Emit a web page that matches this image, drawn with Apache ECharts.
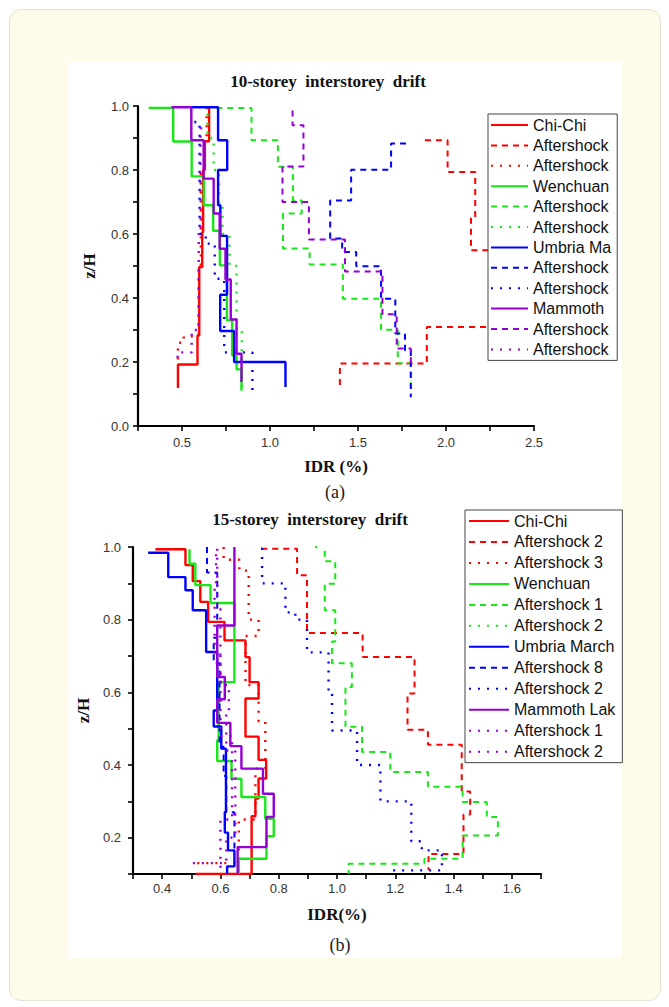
<!DOCTYPE html>
<html><head><meta charset="utf-8">
<script src="https://cdn.jsdelivr.net/npm/echarts@6/dist/echarts.min.js"></script>
<style>
html,body{margin:0;padding:0;background:#fff;}
#card{position:absolute;left:9px;top:9px;width:652px;height:992px;background:#fefbea;border:1px solid #e4e2d6;border-radius:12px;box-sizing:border-box;}
#panel{position:absolute;left:68px;top:62px;width:554px;height:896px;background:#fff;}
#chart{position:absolute;left:0;top:0;width:669px;height:1007px;}
</style></head><body>
<div id="card"></div><div id="panel"></div><div id="chart"></div>
<script>
// ---------- Data: 10-storey (IDR %, z/H breakpoints) ----------
const p1ChiChiIDR = [0.654, 0.654, 0.63, 0.62, 0.615, 0.598, 0.588, 0.477];
const p1ChiChiZ   = [0.996, 0.89, 0.80, 0.606, 0.497, 0.283, 0.192, 0.119];
const p1ChiChiAS1IDR = [1.88, 2.009, 2.166, 2.142, 2.28, 1.891, 1.397];
const p1ChiChiAS1Z   = [0.893, 0.794, 0.653, 0.549, 0.309, 0.195, 0.114];
const p1ChiChiAS2IDR = [0.64, 0.64, 0.625, 0.607, 0.595, 0.51, 0.477];
const p1ChiChiAS2Z   = [0.996, 0.89, 0.80, 0.5, 0.28, 0.26, 0.2];
const p1WenIDR = [0.31, 0.45, 0.555, 0.624, 0.677, 0.715, 0.755, 0.785, 0.81, 0.838];
const p1WenZ   = [0.994, 0.889, 0.78, 0.69, 0.61, 0.502, 0.33, 0.22, 0.177, 0.11];
const p1WenAS1IDR = [0.695, 0.895, 1.045, 1.13, 1.18, 1.074, 1.225, 1.414, 1.631, 1.726, 1.80];
const p1WenAS1Z   = [0.994, 0.893, 0.81, 0.705, 0.664, 0.555, 0.505, 0.398, 0.301, 0.196, 0.10];
const p1WenAS2IDR = [0.63, 0.645, 0.68, 0.71, 0.73, 0.77, 0.81, 0.84];
const p1WenAS2Z   = [0.996, 0.9, 0.8, 0.69, 0.6, 0.5, 0.3, 0.1];
const p1UmbIDR = [0.55, 0.705, 0.757, 0.705, 0.718, 0.756, 0.717, 0.796, 1.088];
const p1UmbZ   = [0.996, 0.893, 0.80, 0.69, 0.594, 0.41, 0.297, 0.2, 0.122];
const p1UmbAS1IDR = [1.773, 1.688, 1.461, 1.342, 1.41, 1.49, 1.631, 1.712, 1.767, 1.80];
const p1UmbAS1Z   = [0.883, 0.801, 0.705, 0.586, 0.544, 0.499, 0.398, 0.289, 0.237, 0.09];
const p1UmbAS2IDR = [0.57, 0.60, 0.635, 0.686, 0.74, 0.90];
const p1UmbAS2Z   = [0.95, 0.6, 0.57, 0.46, 0.23, 0.095];
const p1MamIDR = [0.44, 0.553, 0.623, 0.68, 0.714, 0.747, 0.777, 0.81, 0.838];
const p1MamZ   = [0.996, 0.893, 0.773, 0.664, 0.554, 0.458, 0.333, 0.226, 0.1375];
const p1MamAS1IDR = [1.128, 1.128, 1.19, 1.071, 1.221, 1.426, 1.639, 1.72, 1.80];
const p1MamAS1Z   = [0.986, 0.94, 0.811, 0.70, 0.583, 0.483, 0.349, 0.242, 0.19];
const p1MamAS2IDR = [0.615, 0.605, 0.595, 0.555, 0.475];
const p1MamAS2Z   = [0.93, 0.62, 0.3, 0.23, 0.2];

// ---------- Data: 15-storey ----------
const p2ChiChiIDR = [0.377, 0.48, 0.505, 0.531, 0.558, 0.614, 0.686, 0.70, 0.731, 0.686, 0.731, 0.757, 0.731, 0.72, 0.707, 0.514];
const p2ChiChiZ   = [0.994, 0.95, 0.906, 0.849, 0.794, 0.743, 0.697, 0.628, 0.583, 0.478, 0.414, 0.363, 0.308, 0.259, 0.1, 0.1];
const p2ChiChiAS2IDR = [0.74, 0.863, 0.897, 1.088, 1.266, 1.242, 1.312, 1.428, 1.457, 1.434, 1.314];
const p2ChiChiAS2Z   = [0.995, 0.922, 0.763, 0.697, 0.597, 0.497, 0.456, 0.327, 0.264, 0.155, 0.11];
const p2ChiChiAS3IDR = [0.611, 0.611, 0.665, 0.697, 0.731, 0.686, 0.731, 0.754, 0.72, 0.663, 0.50];
const p2ChiChiAS3Z   = [1.0, 0.965, 0.935, 0.80, 0.755, 0.62, 0.52, 0.39, 0.25, 0.13, 0.13];
const p2WenIDR = [0.494, 0.494, 0.514, 0.566, 0.648, 0.594, 0.589, 0.638, 0.672, 0.754, 0.783, 0.758, 0.663];
const p2WenZ   = [0.994, 0.954, 0.895, 0.846, 0.628, 0.468, 0.411, 0.362, 0.312, 0.252, 0.204, 0.142, 0.1];
const p2WenAS1IDR = [0.958, 0.958, 0.994, 0.958, 0.994, 0.983, 1.051, 1.029, 1.086, 1.183, 1.312, 1.431, 1.514, 1.552, 1.431, 1.30, 1.04];
const p2WenAS1Z   = [0.99, 0.961, 0.899, 0.826, 0.74, 0.68, 0.615, 0.505, 0.436, 0.381, 0.34, 0.298, 0.257, 0.206, 0.142, 0.128, 0.1];
const p2WenAS2IDR = [0.925, 0.94];
const p2WenAS2Z   = [1.0, 0.99];
const p2UmbIDR = [0.352, 0.421, 0.48, 0.505, 0.551, 0.589, 0.577, 0.603, 0.619, 0.615, 0.626, 0.648, 0.623];
const p2UmbZ   = [0.984, 0.917, 0.881, 0.826, 0.711, 0.55, 0.506, 0.445, 0.271, 0.214, 0.165, 0.121, 0.1];
const p2UmbAS8IDR = [0.554, 0.554, 0.589, 0.577, 0.597, 0.611, 0.62, 0.648];
const p2UmbAS8Z   = [1.0, 0.93, 0.75, 0.68, 0.45, 0.37, 0.27, 0.17];
const p2UmbAS2IDR = [0.74, 0.743, 0.823, 0.857, 0.897, 0.971, 0.983, 1.069, 1.149, 1.255, 1.291, 1.36, 1.18];
const p2UmbAS2Z   = [0.995, 0.9, 0.82, 0.8, 0.71, 0.6, 0.495, 0.4, 0.3, 0.19, 0.165, 0.11, 0.11];
const p2MamIDR = [0.648, 0.648, 0.589, 0.615, 0.589, 0.634, 0.672, 0.746, 0.783, 0.758, 0.659];
const p2MamZ   = [1.0, 0.784, 0.642, 0.581, 0.516, 0.452, 0.39, 0.321, 0.257, 0.174, 0.1];
const p2MamAS1IDR = [0.589, 0.589, 0.60, 0.629, 0.62, 0.651, 0.62, 0.50];
const p2MamAS1Z   = [0.995, 0.83, 0.62, 0.55, 0.44, 0.2, 0.13, 0.13];
const p2MamAS2IDR = [0.585, 0.585, 0.58, 0.60, 0.64, 0.60];
const p2MamAS2Z   = [0.98, 0.9, 0.7, 0.48, 0.25, 0.11];

// ---------- Labels ----------
const legend10 = ['Chi-Chi','Aftershock','Aftershock','Wenchuan','Aftershock','Aftershock','Umbria Ma','Aftershock','Aftershock','Mammoth','Aftershock','Aftershock'];
const legend15 = ['Chi-Chi','Aftershock 2','Aftershock 3','Wenchuan','Aftershock 1','Aftershock 2','Umbria March','Aftershock 8','Aftershock 2','Mammoth Lak','Aftershock 1','Aftershock 2'];
const titles = ['10-storey  interstorey  drift', '15-storey  interstorey  drift'];
const xNames = ['IDR (%)', 'IDR(%)'];
const yName = 'z/H';
const panels = ['(a)', '(b)'];

// ---------- Build ----------
const RED = '#ff0000', GREEN = '#19e619', BLUE = '#0000ff', PURPLE = '#9400d3';
const colors = [RED, RED, RED, GREEN, GREEN, GREEN, BLUE, BLUE, BLUE, PURPLE, PURPLE, PURPLE];
const styles = ['solid', 'dashed', 'dotted'];
const sets1 = [[p1ChiChiIDR,p1ChiChiZ],[p1ChiChiAS1IDR,p1ChiChiAS1Z],[p1ChiChiAS2IDR,p1ChiChiAS2Z],
  [p1WenIDR,p1WenZ],[p1WenAS1IDR,p1WenAS1Z],[p1WenAS2IDR,p1WenAS2Z],
  [p1UmbIDR,p1UmbZ],[p1UmbAS1IDR,p1UmbAS1Z],[p1UmbAS2IDR,p1UmbAS2Z],
  [p1MamIDR,p1MamZ],[p1MamAS1IDR,p1MamAS1Z],[p1MamAS2IDR,p1MamAS2Z]];
const sets2 = [[p2ChiChiIDR,p2ChiChiZ],[p2ChiChiAS2IDR,p2ChiChiAS2Z],[p2ChiChiAS3IDR,p2ChiChiAS3Z],
  [p2WenIDR,p2WenZ],[p2WenAS1IDR,p2WenAS1Z],[p2WenAS2IDR,p2WenAS2Z],
  [p2UmbIDR,p2UmbZ],[p2UmbAS8IDR,p2UmbAS8Z],[p2UmbAS2IDR,p2UmbAS2Z],
  [p2MamIDR,p2MamZ],[p2MamAS1IDR,p2MamAS1Z],[p2MamAS2IDR,p2MamAS2Z]];
const styles2 = ['solid','dashed','dotted','solid','dashed','dotted','solid','dashed','dotted','solid','dotted','dotted'];

function stepPath(xs, zs) {
  const pts = [[xs[0], zs[0]]];
  for (let i = 1; i < xs.length; i++) { pts.push([xs[i], zs[i-1]]); pts.push([xs[i], zs[i]]); }
  return pts;
}
function lineStyleFor(t, c) {
  if (t === 'solid') return { color: c, width: 2.4, type: 'solid' };
  if (t === 'dashed') return { color: c, width: 2, type: [6, 5] };
  return { color: c, width: 2.4, type: [2, 7] };
}
const series = [];
const names1 = [], names2 = [];
sets1.forEach((s, i) => {
  const nm = 'a' + i + '|' + legend10[i]; names1.push(nm);
  series.push({ type: 'line', name: nm, xAxisIndex: 0, yAxisIndex: 0, data: stepPath(s[0], s[1]),
    symbol: 'none', color: colors[i], lineStyle: lineStyleFor(styles[i % 3], colors[i]), silent: true });
});
sets2.forEach((s, i) => {
  const nm = 'b' + i + '|' + legend15[i]; names2.push(nm);
  series.push({ type: 'line', name: nm, xAxisIndex: 1, yAxisIndex: 1, data: stepPath(s[0], s[1]),
    symbol: 'none', color: colors[i], lineStyle: lineStyleFor(styles2[i], colors[i]), silent: true });
});

const SERIF = '"Liberation Serif", "Times New Roman", serif';
const SANS = '"Liberation Sans", Arial, sans-serif';
const axisLine = { show: true, onZero: false, lineStyle: { color: '#000', width: 2.2 } };
const axisTick = { show: true, inside: false, length: 5, lineStyle: { color: '#000', width: 1.6 } };
const lbl = { color: '#333', fontFamily: SANS, fontSize: 13 };
const nameStyle = { fontFamily: SERIF, fontWeight: 'bold', fontSize: 17, color: '#111' };

const legendCommon = {
  orient: 'vertical', backgroundColor: '#fff', borderColor: '#444', borderWidth: 1,
  itemHeight: 14, itemStyle: { opacity: 0, borderWidth: 0 },
  textStyle: { fontFamily: SANS, fontSize: 16, lineHeight: 16, color: '#111' },
  formatter: n => n.split('|')[1], selectedMode: false
};

const option = {
  animation: false,
  title: [
    { text: titles[0], left: 323, top: 68, textAlign: 'center', textStyle: { fontFamily: SERIF, fontWeight: 'bold', fontSize: 17, color: '#111' } },
    { text: panels[0], left: 330, top: 478, textAlign: 'center', textStyle: { fontFamily: SERIF, fontWeight: 'normal', fontSize: 18, color: '#222' } },
    { text: titles[1], left: 305, top: 506, textAlign: 'center', textStyle: { fontFamily: SERIF, fontWeight: 'bold', fontSize: 17, color: '#111' } },
    { text: panels[1], left: 335, top: 931, textAlign: 'center', textStyle: { fontFamily: SERIF, fontWeight: 'normal', fontSize: 18, color: '#222' } }
  ],
  legend: [
    Object.assign({}, legendCommon, { data: names1, left: 488, top: 114, itemWidth: 37, itemGap: 4.4, padding: [3, 6, 3, 2] }),
    Object.assign({}, legendCommon, { data: names2, left: 465, top: 510, itemWidth: 40, itemGap: 4.97, padding: [3, 7, 3, 3] })
  ],
  grid: [
    { left: 138, top: 106, width: 396, height: 320 },
    { left: 133, top: 547, width: 408, height: 327 }
  ],
  xAxis: [
    { type: 'value', gridIndex: 0, min: 0.25, max: 2.5, interval: 0.25, splitLine: { show: false },
      axisLine, axisTick, name: xNames[0], nameLocation: 'middle', nameGap: 32, nameTextStyle: nameStyle,
      axisLabel: Object.assign({ margin: 10, formatter: v => (Math.round(v * 4) % 2 === 0 ? v.toFixed(1) : '') }, lbl) },
    { type: 'value', gridIndex: 1, min: 0.3, max: 1.7, interval: 0.1, splitLine: { show: false },
      axisLine, axisTick, name: xNames[1], nameLocation: 'middle', nameGap: 32, nameTextStyle: nameStyle,
      axisLabel: Object.assign({ margin: 8, formatter: v => (Math.round(v * 10) % 2 === 0 ? v.toFixed(1) : '') }, lbl) }
  ],
  yAxis: [
    { type: 'value', gridIndex: 0, min: 0, max: 1, interval: 0.1, splitLine: { show: false },
      axisLine, axisTick, name: yName, nameLocation: 'middle', nameGap: 40, nameTextStyle: nameStyle,
      axisLabel: Object.assign({ margin: 9, formatter: v => (Math.round(v * 10) % 2 === 0 ? v.toFixed(1) : '') }, lbl) },
    { type: 'value', gridIndex: 1, min: 0.1, max: 1.0, interval: 0.1, splitLine: { show: false },
      axisLine, axisTick, name: yName, nameLocation: 'middle', nameGap: 40, nameTextStyle: nameStyle,
      axisLabel: Object.assign({ margin: 12, formatter: v => (Math.round(v * 10) % 2 === 0 ? v.toFixed(1) : '') }, lbl) }
  ],
  series
};
const chart = echarts.init(document.getElementById('chart'), null, { renderer: 'svg', width: 669, height: 1007 });
chart.setOption(option);
</script></body></html>
